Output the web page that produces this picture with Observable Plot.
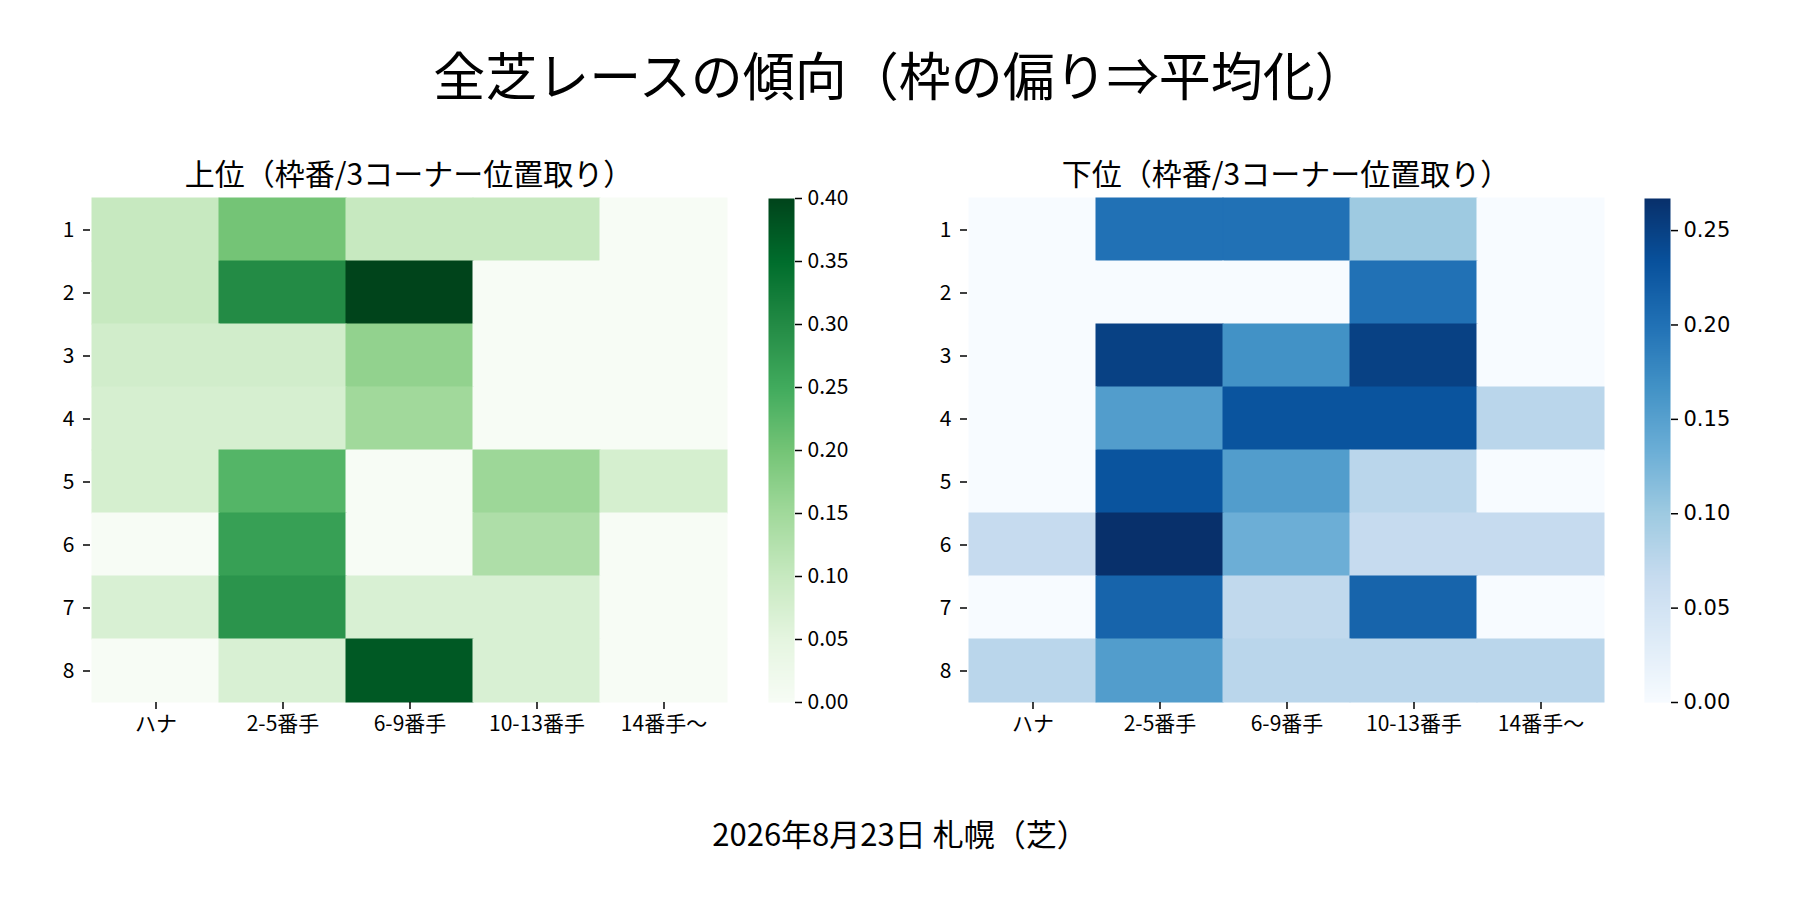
<!DOCTYPE html>
<html><head><meta charset="utf-8">
<script src="https://cdn.jsdelivr.net/npm/d3@7"></script>
<script src="https://cdn.jsdelivr.net/npm/@observablehq/plot@0.6"></script>
<style>
body{margin:0;background:#fff;}
#root{position:relative;width:1800px;height:900px;background:#fff;font-family:"Noto Sans CJK JP",sans-serif;color:#000;overflow:hidden;}
.lbl{position:absolute;white-space:nowrap;line-height:1;transform:translate(-50%,-50%);}
.abs{position:absolute;}
.abs svg{overflow:visible;}
</style></head><body><div id="root"></div>
<script>
// ---- data ----
const frames = ["1","2","3","4","5","6","7","8"];
const positions = ["ハナ","2-5番手","6-9番手","10-13番手","14番手〜"];
const upperValues = [
  [0.100, 0.200, 0.100, 0.100, 0.000],
  [0.100, 0.300, 0.400, 0.000, 0.000],
  [0.083, 0.083, 0.167, 0.000, 0.000],
  [0.075, 0.075, 0.150, 0.000, 0.000],
  [0.077, 0.231, 0.000, 0.154, 0.077],
  [0.000, 0.267, 0.000, 0.133, 0.000],
  [0.071, 0.286, 0.071, 0.071, 0.000],
  [0.000, 0.071, 0.375, 0.071, 0.000]
];
const lowerValues = [
  [0.000, 0.200, 0.200, 0.100, 0.000],
  [0.000, 0.000, 0.000, 0.200, 0.000],
  [0.000, 0.250, 0.167, 0.250, 0.000],
  [0.000, 0.154, 0.231, 0.231, 0.077],
  [0.000, 0.231, 0.154, 0.077, 0.000],
  [0.067, 0.267, 0.133, 0.067, 0.067],
  [0.000, 0.214, 0.071, 0.214, 0.000],
  [0.077, 0.154, 0.077, 0.077, 0.077]
];
const upperTicks = [0.00, 0.05, 0.10, 0.15, 0.20, 0.25, 0.30, 0.35, 0.40];
const lowerTicks = [0.00, 0.05, 0.10, 0.15, 0.20, 0.25];
const greens = ["#f7fcf5","#e5f5e0","#c7e9c0","#a1d99b","#74c476","#41ab5d","#238b45","#006d2c","#00441b"];
const blues  = ["#f7fbff","#deebf7","#c6dbef","#9ecae1","#6baed6","#4292c6","#2171b5","#08519c","#08306b"];
const mainTitle = "全芝レースの傾向（枠の偏り⇒平均化）";
const upperTitle = "上位（枠番/3コーナー位置取り）";
const lowerTitle = "下位（枠番/3コーナー位置取り）";
const caption = "2026年8月23日 札幌（芝）";

// ---- helpers ----
const JP = "Noto Sans CJK JP, sans-serif";
const root = document.getElementById("root");
function place(node, left, top) {
  const d = document.createElement("div");
  d.className = "abs"; d.style.left = left + "px"; d.style.top = top + "px";
  d.appendChild(node); root.appendChild(d);
}
function label(text, cx, cy, size) {
  const d = document.createElement("div");
  d.className = "lbl"; d.textContent = text;
  d.style.left = cx + "px"; d.style.top = cy + "px"; d.style.fontSize = size + "px";
  root.appendChild(d);
}
function colorOpts(colors, max) {
  return {type: "linear", domain: colors.map((c, i) => i * max / (colors.length - 1)), range: colors, interpolate: "rgb"};
}
function heatmap(values, colors, max) {
  const data = frames.flatMap((f, i) => positions.map((p, j) => ({frame: f, pos: p, value: values[i][j]})));
  return Plot.plot({
    width: 728, height: 504 + 70, marginLeft: 90, marginRight: 0, marginTop: 0, marginBottom: 70,
    x: {type: "band", domain: positions, padding: 0, label: null},
    y: {type: "band", domain: frames, padding: 0, label: null},
    color: colorOpts(colors, max),
    style: {fontFamily: JP, fontSize: "21px", color: "#000", background: "transparent"},
    marks: [
      Plot.cell(data, {x: "pos", y: "frame", fill: "value", stroke: "value", strokeWidth: 1, inset: 0}),
      Plot.axisX({anchor: "bottom", tickSize: 7, tickPadding: 7, fontSize: 21, strokeWidth: 1.5, label: null}),
      Plot.axisY({anchor: "left", tickSize: 7, tickPadding: 9, fontSize: 21, strokeWidth: 1.5, label: null})
    ]
  });
}
function colorbar(colors, max, ticks, font) {
  return Plot.plot({
    width: 96, height: 534, marginLeft: 0, marginRight: 70, marginTop: 15, marginBottom: 15,
    x: {domain: [0, 1], axis: null},
    y: {domain: [0, max], axis: null},
    color: colorOpts(colors, max),
    style: {fontFamily: font, fontSize: "21px", color: "#000", background: "transparent"},
    marks: [
      Plot.raster({x1: 0, x2: 1, y1: 0, y2: max, fill: (x, y) => y}),
      Plot.axisY({anchor: "right", ticks: ticks, tickFormat: d3.format(".2f"), tickSize: 7, tickPadding: 6,
                  fontSize: 21, fontFamily: font, strokeWidth: 1.5, label: null})
    ]
  });
}

const upperMax = d3.max(upperValues.flat());
const lowerMax = d3.max(lowerValues.flat());

label(mainTitle, 900, 74, 52);
label(upperTitle, 409, 172, 30);
label(lowerTitle, 1286, 172, 30);
label(caption, 900, 832, 31);

place(heatmap(upperValues, greens, upperMax), 0, 198);
place(colorbar(greens, upperMax, upperTicks, JP), 768, 183);
place(heatmap(lowerValues, blues, lowerMax), 877, 198);
place(colorbar(blues, lowerMax, lowerTicks, "DejaVu Sans, sans-serif"), 1644, 183);
</script></body></html>
